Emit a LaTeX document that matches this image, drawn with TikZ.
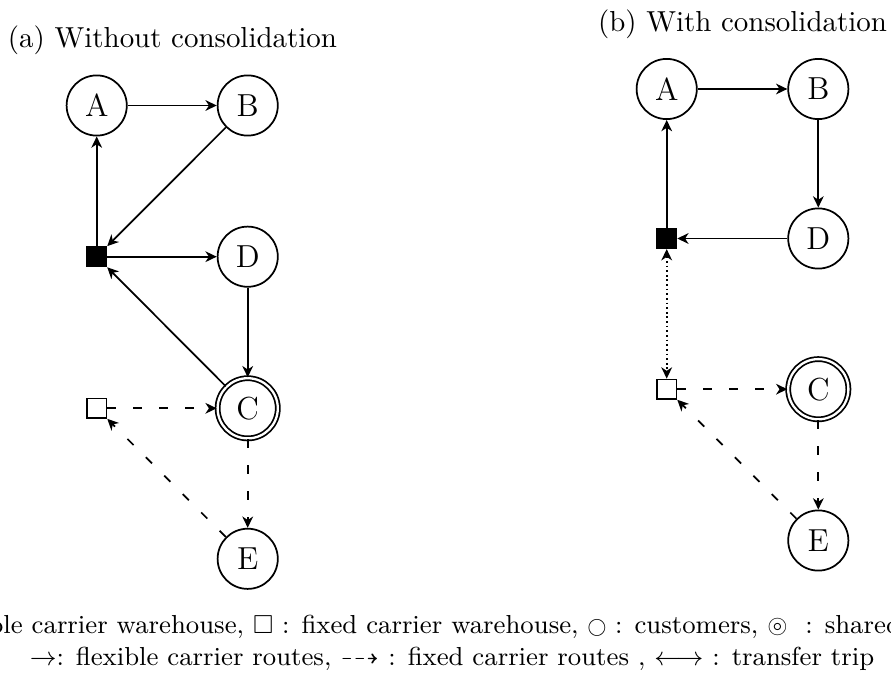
\documentclass[tikz,border=0pt]{standalone}
\usepackage{amssymb}
\usetikzlibrary{arrows.meta}

\begin{document}
\begin{tikzpicture}[x=0.34554pt, y=-0.34554pt,
  line width=0.6pt,
  >={Stealth[length=3.9pt,width=3.7pt,inset=1.2pt]},
  cust/.style={circle, draw, minimum size=20.8pt, inner sep=0pt,
               font=\fontsize{11}{13.6}\selectfont},
  shared/.style={cust, double, double distance=0.8pt},
  flexwh/.style={rectangle, draw, fill=black, minimum size=6.7pt, inner sep=0pt},
  fixwh/.style={rectangle, draw, fill=white, minimum size=6.7pt, inner sep=0pt},
  flexroute/.style={->},
  fixroute/.style={->, loosely dashed},
  transfer/.style={<->, densely dotted},
  caption/.style={inner sep=0pt, anchor=base},
  legend/.style={inner sep=0pt, font=\small}
]
\useasboundingbox (0,0) rectangle (891,674);

% ---------- (a) without consolidation ----------
\node[caption] (capA) at (172.5,47.3) {(a) Without consolidation};

\node[cust]   (aA)  at (96.7,105.5)  {A};
\node[cust]   (aB)  at (247.7,105.5) {B};
\node[flexwh] (aF)  at (96.7,256.7)  {};
\node[cust]   (aD)  at (247.7,256.7) {D};
\node[fixwh]  (aW)  at (96.7,408.3)  {};
\node[shared] (aC)  at (247.7,408.3) {C};
\node[cust]   (aE)  at (247.7,558.8) {E};

\draw[flexroute] (aA) -- (aB);
\draw[flexroute] (aB) -- (aF);
\draw[flexroute] (aF) -- (aA);
\draw[flexroute] (aF) -- (aD);
\draw[flexroute] (aD) -- (aC);
\draw[flexroute] (aC) -- (aF);
\draw[fixroute]  (aW) -- (aC);
\draw[fixroute]  (aC) -- (aE);
\draw[fixroute]  (aE) -- (aW);

% ---------- (b) with consolidation ----------
\node[caption] (capB) at (742.5,31.7) {(b) With consolidation};

\node[cust]   (bA)  at (666.7,89)    {A};
\node[cust]   (bB)  at (818.3,89)    {B};
\node[flexwh] (bF)  at (666.7,238.5) {};
\node[cust]   (bD)  at (818.3,238.5) {D};
\node[fixwh]  (bW)  at (666.7,389.2) {};
\node[shared] (bC)  at (818.3,389.2) {C};
\node[cust]   (bE)  at (818.3,540.5) {E};

\draw[flexroute] (bA) -- (bB);
\draw[flexroute] (bB) -- (bD);
\draw[flexroute] (bD) -- (bF);
\draw[flexroute] (bF) -- (bA);
\draw[transfer]  (bF) -- (bW);
\draw[fixroute]  (bW) -- (bC);
\draw[fixroute]  (bC) -- (bE);
\draw[fixroute]  (bE) -- (bW);

% ---------- legend ----------
\node[legend, anchor=base west] (leg1) at (-12.3,633.3)
  {ble carrier warehouse, $\square$ : fixed carrier warehouse,
   \raisebox{0.4pt}{\scalebox{0.7}{$\bigcirc$}} : customers, $\circledcirc$\ \ : shared};
\node[legend, anchor=base] (leg2) at (452,665)
  {$\rightarrow$: flexible carrier routes, $\dashrightarrow$ : fixed carrier routes , $\longleftrightarrow$ : transfer trip};
\end{tikzpicture}
\end{document}
